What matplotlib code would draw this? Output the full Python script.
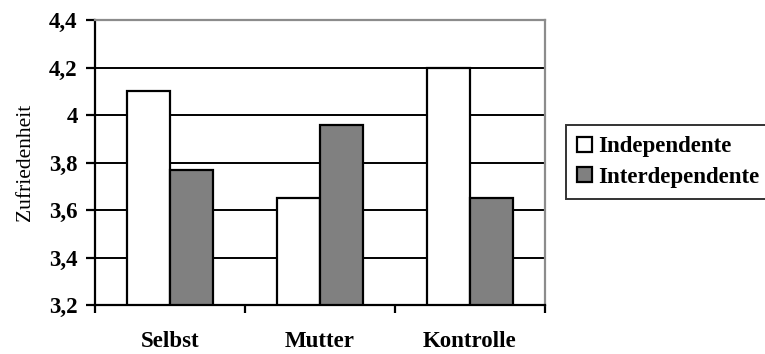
import numpy as np
import matplotlib.pyplot as plt
from matplotlib.ticker import FixedLocator, NullFormatter

plt.rcParams['font.family'] = 'serif'
plt.rcParams['font.serif'] = ['Liberation Serif', 'DejaVu Serif']

categories = ['Selbst', 'Mutter', 'Kontrolle']
independente = [4.10, 3.65, 4.20]
interdependente = [3.77, 3.96, 3.65]
yticks = [3.2, 3.4, 3.6, 3.8, 4.0, 4.2, 4.4]
ytick_labels = ['3,2', '3,4', '3,6', '3,8', '4', '4,2', '4,4']

fig = plt.figure(figsize=(7.65, 3.54), dpi=100)
ax = fig.add_axes([95 / 765, 1 - 305 / 354, 450 / 765, 285 / 354])

x = np.arange(len(categories))
w = 0.287
ax.bar(x - w / 2, [v - 3.2 for v in independente], w, bottom=3.2, color='white',
       edgecolor='black', linewidth=1.6, label='Independente', zorder=3)
ax.bar(x + w / 2, [v - 3.2 for v in interdependente], w, bottom=3.2, color='#808080',
       edgecolor='black', linewidth=1.6, label='Interdependente', zorder=3)

ax.set_xlim(-0.5, len(categories) - 0.5)
ax.set_ylim(3.2, 4.4)
ax.set_yticks(yticks)
ax.set_yticklabels(ytick_labels, fontsize=16.5, fontweight='bold')
ax.yaxis.grid(True, color='black', linewidth=1.4, zorder=0)
ax.set_axisbelow(True)

ax.set_xticks(x)
ax.set_xticklabels(categories, fontsize=16.5, fontweight='bold')
ax.tick_params(axis='x', which='major', length=0, pad=19)
ax.xaxis.set_minor_locator(FixedLocator([-0.5, 0.5, 1.5, 2.5]))
ax.xaxis.set_minor_formatter(NullFormatter())
ax.tick_params(axis='x', which='minor', length=6, width=1.6, color='black')
ax.tick_params(axis='y', length=6.5, width=1.6, pad=6)

ax.set_ylabel('Zufriedenheit', fontsize=15.5, labelpad=10)

for s in ['left', 'bottom']:
    ax.spines[s].set_color('black')
    ax.spines[s].set_linewidth(1.6)
for s in ['top', 'right']:
    ax.spines[s].set_color('#8c8c8c')
    ax.spines[s].set_linewidth(1.6)

leg = fig.legend(loc='upper left', bbox_to_anchor=(566 / 765, 1 - 125 / 354),
                 frameon=True, fancybox=False, edgecolor='black',
                 prop={'size': 16.5, 'weight': 'bold'}, handlelength=0.65,
                 handleheight=0.65, handletextpad=0.25, borderpad=0.5,
                 labelspacing=0.4, borderaxespad=0)
leg.get_frame().set_linewidth(1.4)

fig.savefig('out.png', dpi=100)
